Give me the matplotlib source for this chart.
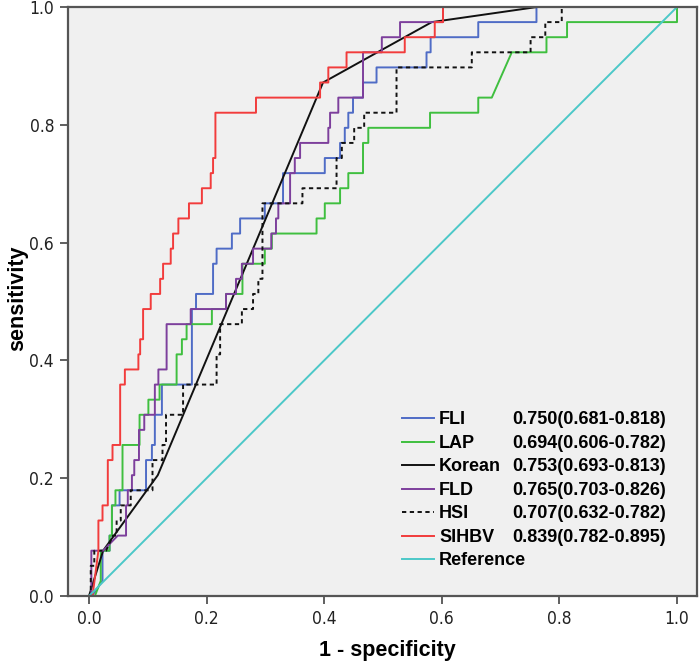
import numpy as np
import matplotlib
matplotlib.use('Agg')
import matplotlib.pyplot as plt
import matplotlib.transforms as mtransforms

# ROC vertices: fpr, and tpr as number of positives out of 39
n_pos = 39

fli_fpr = [0, .005, .023, .023, .035, .035, .039, .039, .052, .052, .097, .097, .107, .107, .112, .112,
           .124, .124, .175, .175, .182, .182, .211, .211, .217, .217, .243, .243, .257, .257, .299, .299,
           .330, .330, .401, .401, .427, .427, .435, .435, .441, .441, .449, .449, .466, .466, .489, .489,
           .574, .574, .581, .581, .662, .662, .761, .761, 1]
fli_k = [0, 0, 1, 3, 3, 4, 4, 6, 6, 7, 7, 9, 9, 10, 10, 12,
         12, 14, 14, 19, 19, 20, 20, 22, 22, 23, 23, 24, 24, 25, 25, 26,
         26, 28, 28, 29, 29, 30, 30, 31, 31, 32, 32, 33, 33, 34, 34, 35,
         35, 36, 36, 37, 37, 38, 38, 39, 39]

lap_fpr = [0, .010, .020, .020, .035, .035, .039, .039, .045, .045, .057, .057, .086, .086, .101, .101,
           .120, .120, .149, .149, .158, .158, .166, .166, .209, .209, .233, .233, .261, .261, .299, .299,
           .311, .311, .387, .387, .401, .401, .427, .427, .441, .441, .466, .466, .475, .475, .580, .580,
           .662, .662, .685, .719, .778, .778, .813, .813, 1, 1]
lap_k = [0, 0, 1, 3, 3, 4, 4, 6, 6, 7, 7, 10, 10, 12, 12, 13,
         13, 14, 14, 16, 16, 17, 17, 18, 18, 19, 19, 20, 20, 22, 22, 23,
         23, 24, 24, 25, 25, 26, 26, 27, 27, 28, 28, 30, 30, 31, 31, 32,
         32, 33, 33, 36, 36, 37, 37, 38, 38, 39]

korean_fpr = [0, .024, .117, .398, .583, .762, 1]
korean_k = [0, 3, 8, 34, 38, 39, 39]

fld_fpr = [0, .004, .004, .024, .049, .063, .063, .066, .066, .073, .073, .077, .077, .085, .085, .094,
           .094, .112, .112, .118, .118, .132, .132, .173, .173, .233, .233, .250, .250, .260, .260, .279,
           .279, .310, .310, .318, .318, .322, .322, .342, .342, .350, .350, .359, .359, .407, .407, .410,
           .410, .424, .424, .466, .466, .498, .498, .529, .529, .602, .602, 1]
fld_k = [0, 0, 3, 3, 4, 4, 6, 6, 7, 7, 8, 8, 9, 9, 11, 11,
         12, 12, 14, 14, 15, 15, 18, 18, 19, 19, 20, 20, 21, 21, 22, 22,
         23, 23, 24, 24, 25, 25, 26, 26, 28, 28, 29, 29, 30, 30, 31, 31,
         32, 32, 33, 33, 36, 36, 37, 37, 38, 38, 39, 39]

hsi_fpr = [0, .003, .003, .009, .009, .029, .041, .047, .047, .054, .054, .071, .071, .108, .108, .125,
           .125, .131, .131, .160, .160, .217, .217, .223, .223, .260, .260, .279, .279, .288, .288, .295,
           .295, .363, .363, .421, .421, .430, .430, .451, .451, .468, .468, .523, .523, .651, .651, .751,
           .751, .776, .776, .804, .804, 1]
hsi_k = [0, 0, 2, 2, 3, 3, 4, 4, 5, 5, 6, 6, 7, 7, 9, 9,
         10, 10, 12, 12, 14, 14, 16, 16, 18, 18, 19, 19, 20, 20, 21, 21,
         26, 26, 27, 27, 29, 29, 30, 30, 31, 31, 32, 32, 35, 35, 36, 36,
         37, 37, 38, 38, 39, 39]

sihbv_fpr = [0, .006, .016, .016, .023, .023, .032, .032, .040, .040, .053, .053, .061, .061, .084, .084,
             .087, .087, .092, .092, .105, .105, .121, .121, .126, .126, .139, .139, .143, .143, .152, .152,
             .170, .170, .192, .192, .207, .207, .211, .211, .215, .215, .284, .284, .393, .393, .407, .407,
             .438, .438, .537, .537, .588, .588, .602, .602, 1]
sihbv_k = [0, 0, 3, 5, 5, 6, 6, 9, 9, 10, 10, 14, 14, 15, 15, 16,
           16, 17, 17, 19, 19, 20, 20, 21, 21, 22, 22, 23, 23, 24, 24, 25,
           25, 26, 26, 27, 27, 28, 28, 29, 29, 32, 32, 33, 33, 34, 34, 35,
           35, 36, 36, 37, 37, 38, 38, 39, 39]

names = ['FLI', 'LAP', 'Korean', 'FLD', 'HSI', 'SIHBV', 'Reference']
auc_text = ['0.750(0.681-0.818)', '0.694(0.606-0.782)', '0.753(0.693-0.813)',
            '0.765(0.703-0.826)', '0.707(0.632-0.782)', '0.839(0.782-0.895)']
ticks = [0.0, 0.2, 0.4, 0.6, 0.8, 1.0]
tick_labels = ['0.0', '0.2', '0.4', '0.6', '0.8', '1.0']

curves = [(fli_fpr, fli_k), (lap_fpr, lap_k), (korean_fpr, korean_k),
          (fld_fpr, fld_k), (hsi_fpr, hsi_k), (sihbv_fpr, sihbv_k)]
colors = ['#4f6cc6', '#3fbf3f', '#111111', '#7d3f9c', '#111111', '#f23c3c']
styles = ['-', '-', '-', '-', (0, (2.2, 1.8)), '-']

fig = plt.figure(figsize=(7, 6.66), dpi=100)
ax = fig.add_axes([68 / 700, 70 / 666, 629 / 700, 589 / 666])
ax.set_facecolor('#f0f0f0')

for (fpr, k), c, ls, nm in zip(curves, colors, styles, names):
    ax.plot(fpr, np.array(k) / n_pos, color=c, linestyle=ls, lw=1.4, label=nm)
ax.plot([0, 1], [0, 1], color='#4cc8c8', lw=1.4, label='Reference')

ax.set_xlim(-0.0357, 1.034)
ax.set_ylim(0, 1)
ax.set_xticks(ticks)
ax.set_xticklabels(tick_labels)
ax.set_yticks(ticks)
ax.set_yticklabels(tick_labels)
for lab in ax.get_xticklabels() + ax.get_yticklabels():
    lab.set_family('DejaVu Sans')
    lab.set_stretch('condensed')
    lab.set_fontsize(12.5)
    lab.set_color('#222222')
ax.tick_params(direction='out', length=6, width=1.2, color='#444444', pad=4)
for sp in ax.spines.values():
    sp.set_color('#555555')
    sp.set_linewidth(1.6)

ax.set_xlabel('1 - specificity', fontsize=15.5, fontweight='bold', family='Liberation Sans')
ax.set_ylabel('sensitivity', fontsize=15.5, fontweight='bold', family='Liberation Sans')
ax.xaxis.set_label_coords(0.507, -0.074)
ax.yaxis.set_label_coords(-0.064, 0.505)

leg = ax.legend(loc='lower left', bbox_to_anchor=(0.531, 0.045), frameon=False,
                prop={'family': 'Liberation Sans', 'weight': 'bold', 'size': 13},
                handlelength=1.8, handletextpad=0.25, labelspacing=0.36, borderpad=0, borderaxespad=0)

fig.canvas.draw()
for txt, val in zip(leg.get_texts(), auc_text):
    bb = txt.get_window_extent()
    fig.text(512, (bb.y0 + bb.y1) / 2, val, transform=mtransforms.IdentityTransform(),
             va='center', ha='left', family='Liberation Sans', fontweight='bold', fontsize=13)

fig.savefig('out.png', dpi=100)
